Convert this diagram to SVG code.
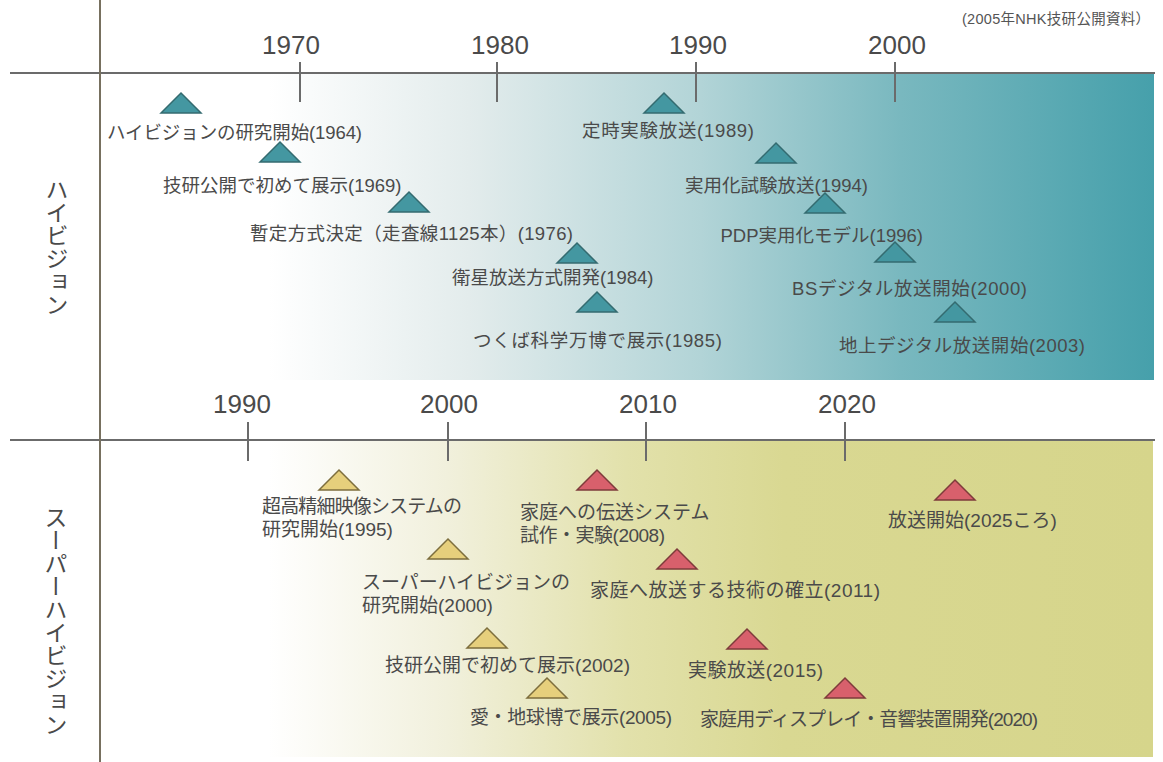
<svg xmlns="http://www.w3.org/2000/svg" width="1163" height="762" viewBox="0 0 1163 762">
<defs>
<linearGradient id="gTop" x1="100" y1="0" x2="1154" y2="0" gradientUnits="userSpaceOnUse">
<stop offset="0" stop-color="#ffffff"/>
<stop offset="0.16" stop-color="#ffffff"/>
<stop offset="0.35" stop-color="#e3ecec"/>
<stop offset="0.57" stop-color="#b2d4d7"/>
<stop offset="0.76" stop-color="#79b8bf"/>
<stop offset="1" stop-color="#46a0ab"/>
</linearGradient>
<linearGradient id="gBot" x1="100" y1="0" x2="1153" y2="0" gradientUnits="userSpaceOnUse">
<stop offset="0" stop-color="#ffffff"/>
<stop offset="0.16" stop-color="#ffffff"/>
<stop offset="0.33" stop-color="#f1f0dc"/>
<stop offset="0.5" stop-color="#e2e1ab"/>
<stop offset="0.65" stop-color="#d9d892"/>
<stop offset="1" stop-color="#d6d58b"/>
</linearGradient>
<path id="tri" d="M-20,10 L0,-10 L20,10 Z"/>
</defs>
<style>
.axis{stroke:#6b6b6b;stroke-width:2;fill:none}
.vaxis{stroke:#77705f;stroke-width:2;fill:none}
.yr{font-family:"Liberation Sans",Arial,sans-serif;font-size:26px;fill:#4a4a4a;text-anchor:middle}
.lb{font-family:"Liberation Sans","Noto Sans CJK JP",sans-serif;font-size:18.5px;fill:#4a4a4a}
.lb2{font-family:"Liberation Sans","Noto Sans CJK JP",sans-serif;font-size:19px;fill:#4a4a4a}
.vt{font-family:"Noto Sans CJK JP",sans-serif;font-size:23px;fill:#4a4a4a;writing-mode:vertical-rl}
.cap{font-family:"Liberation Sans","Noto Sans CJK JP",sans-serif;font-size:14.5px;fill:#555555}
.t{fill:#4497a1;stroke:#346b70;stroke-width:1.5}
.y{fill:#e6cf7c;stroke:#7d6e3d;stroke-width:1.5}
.r{fill:#d8606c;stroke:#7e3b3b;stroke-width:1.5}
</style>
<rect width="1163" height="762" fill="#ffffff"/>
<g id="panels">
<rect x="100" y="73" width="1054" height="307" fill="url(#gTop)"/>
<rect x="100" y="440" width="1053" height="317" fill="url(#gBot)"/>
</g>
<text class="cap" x="962" y="24" textLength="188">(2005年NHK技研公開資料）</text>
<g id="axes">
<line class="axis" x1="10" y1="73" x2="1155" y2="73"/>
<line class="axis" x1="10" y1="440" x2="1155" y2="440"/>
<line class="vaxis" x1="100" y1="0" x2="100" y2="762"/>
<line class="axis" x1="300" y1="62" x2="300" y2="102"/>
<line class="axis" x1="497" y1="62" x2="497" y2="102"/>
<line class="axis" x1="696" y1="62" x2="696" y2="102"/>
<line class="axis" x1="895" y1="62" x2="895" y2="102"/>
<line class="axis" x1="248" y1="422" x2="248" y2="461"/>
<line class="axis" x1="448" y1="422" x2="448" y2="461"/>
<line class="axis" x1="646" y1="422" x2="646" y2="461"/>
<line class="axis" x1="845" y1="422" x2="845" y2="461"/>
</g>
<g id="years">
<text class="yr" x="291" y="54">1970</text>
<text class="yr" x="500" y="54">1980</text>
<text class="yr" x="698" y="54">1990</text>
<text class="yr" x="897" y="54">2000</text>
<text class="yr" x="242" y="413">1990</text>
<text class="yr" x="449" y="413">2000</text>
<text class="yr" x="648" y="413">2010</text>
<text class="yr" x="847" y="413">2020</text>
</g>
<g id="side-labels">
<text class="vt" x="57" y="178">ハイビジョン</text>
<text class="vt" x="56" y="506">スーパーハイビジョン</text>
</g>
<g id="hv-1964"><use href="#tri" class="t" x="181" y="103"/><text class="lb" x="107" y="139" textLength="255">ハイビジョンの研究開始(1964)</text></g>
<g id="hv-1969"><use href="#tri" class="t" x="280" y="152"/><text class="lb" x="163" y="192">技研公開で初めて展示(1969)</text></g>
<g id="hv-1976"><use href="#tri" class="t" x="409" y="202"/><text class="lb" x="250" y="240" textLength="323">暫定方式決定（走査線1125本）(1976)</text></g>
<g id="hv-1984"><use href="#tri" class="t" x="577" y="253"/><text class="lb" x="452" y="284">衛星放送方式開発(1984)</text></g>
<g id="hv-1985"><use href="#tri" class="t" x="597" y="302"/><text class="lb" x="473" y="347" textLength="249">つくば科学万博で展示(1985)</text></g>
<g id="hv-1989"><use href="#tri" class="t" x="664" y="103"/><text class="lb" x="582" y="137" textLength="172">定時実験放送(1989)</text></g>
<g id="hv-1994"><use href="#tri" class="t" x="776" y="153"/><text class="lb" x="868" y="192" text-anchor="end">実用化試験放送(1994)</text></g>
<g id="hv-1996"><use href="#tri" class="t" x="825" y="203"/><text class="lb" x="923" y="242" text-anchor="end">PDP実用化モデル(1996)</text></g>
<g id="hv-2000"><use href="#tri" class="t" x="895" y="252"/><text class="lb" x="792" y="295" textLength="235">BSデジタル放送開始(2000)</text></g>
<g id="hv-2003"><use href="#tri" class="t" x="955" y="312"/><text class="lb" x="839" y="352" textLength="246">地上デジタル放送開始(2003)</text></g>
<g id="shv-1995"><use href="#tri" class="y" x="339" y="480"/><text class="lb2" x="262" y="513" textLength="200">超高精細映像システムの</text><text class="lb2" x="262" y="536">研究開始(1995)</text></g>
<g id="shv-2000"><use href="#tri" class="y" x="448" y="549"/><text class="lb2" x="362" y="589">スーパーハイビジョンの</text><text class="lb2" x="362" y="612">研究開始(2000)</text></g>
<g id="shv-2002"><use href="#tri" class="y" x="487" y="638"/><text class="lb2" x="630" y="672" text-anchor="end">技研公開で初めて展示(2002)</text></g>
<g id="shv-2005"><use href="#tri" class="y" x="547" y="688"/><text class="lb2" x="470" y="724" textLength="202">愛・地球博で展示(2005)</text></g>
<g id="shv-2008"><use href="#tri" class="r" x="597" y="480"/><text class="lb2" x="520" y="519">家庭への伝送システム</text><text class="lb2" x="520" y="542" textLength="145">試作・実験(2008)</text></g>
<g id="shv-2011"><use href="#tri" class="r" x="677" y="559"/><text class="lb2" x="590" y="597" textLength="290">家庭へ放送する技術の確立(2011)</text></g>
<g id="shv-2015"><use href="#tri" class="r" x="747" y="639"/><text class="lb2" x="688" y="677" textLength="135">実験放送(2015)</text></g>
<g id="shv-2020"><use href="#tri" class="r" x="845" y="688"/><text class="lb2" x="700" y="726" textLength="338">家庭用ディスプレイ・音響装置開発(2020)</text></g>
<g id="shv-2025"><use href="#tri" class="r" x="955" y="490"/><text class="lb2" x="888" y="527">放送開始(2025ころ)</text></g>
</svg>
